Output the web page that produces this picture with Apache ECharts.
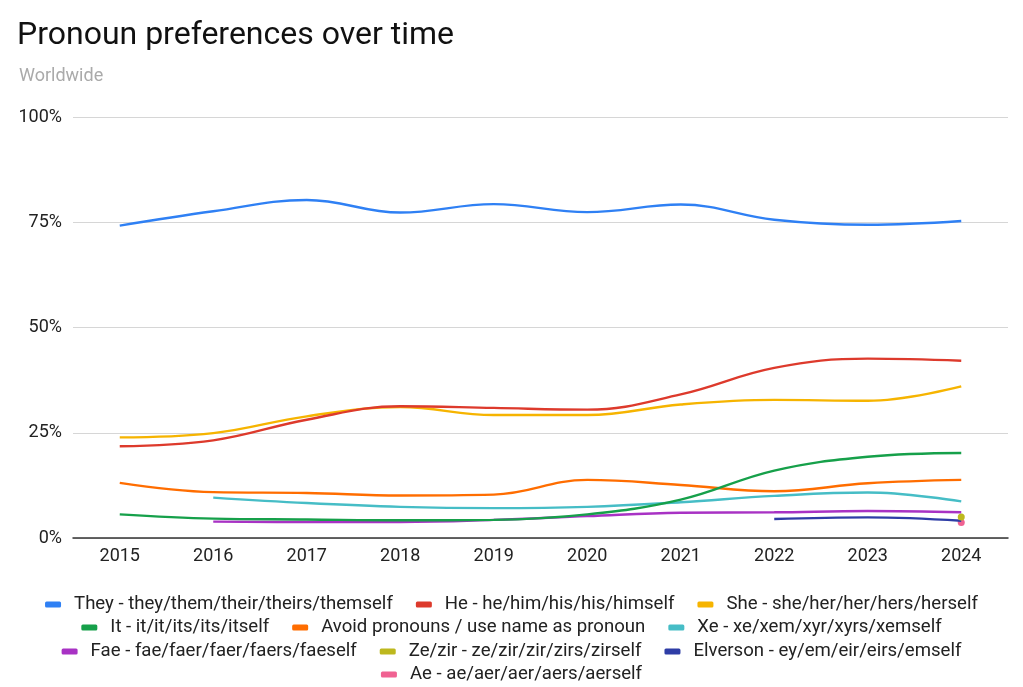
<!DOCTYPE html>
<html>
<head>
<meta charset="utf-8">
<script src="https://cdn.jsdelivr.net/npm/echarts@6/dist/echarts.min.js"></script>
<style>
html,body{margin:0;padding:0;background:#fff;}
#chart{width:1023px;height:687px;}
</style>
</head>
<body>
<div id="chart"></div>
<script>
const years = ['2015','2016','2017','2018','2019','2020','2021','2022','2023','2024'];
const yTicks = [0, 25, 50, 75, 100];

const seriesNames = [
  'They - they/them/their/theirs/themself',
  'He - he/him/his/his/himself',
  'She - she/her/her/hers/herself',
  'It - it/it/its/its/itself',
  'Avoid pronouns / use name as pronoun',
  'Xe - xe/xem/xyr/xyrs/xemself',
  'Fae - fae/faer/faer/faers/faeself',
  'Ze/zir - ze/zir/zir/zirs/zirself',
  'Elverson - ey/em/eir/eirs/emself',
  'Ae - ae/aer/aer/aers/aerself'
];

const theyValues = [74.2, 77.6, 80.3, 77.3, 79.3, 77.4, 79.2, 75.6, 74.4, 75.3];
const heValues = [21.8, 23.2, 28.1, 31.3, 30.9, 30.5, 34.1, 40.4, 42.6, 42.1];
const sheValues = [23.9, 24.9, 28.9, 31.1, 29.2, 29.2, 31.7, 32.8, 32.6, 36.0];
const itValues = [5.6, 4.6, 4.4, 4.2, 4.3, 5.6, 9.1, 16.0, 19.3, 20.2];
const avoidValues = [13.1, 10.9, 10.7, 10.1, 10.3, 13.8, 12.6, 11.1, 13.0, 13.8];
const xeValues = [null, 9.6, 8.3, 7.4, 7.1, 7.4, 8.5, 10.0, 10.8, 8.7];
const faeValues = [null, 3.9, 3.8, 3.8, 4.3, 5.2, 6.0, 6.1, 6.4, 6.1];
const zeValues = [null, null, null, null, null, null, null, null, null, 5.0];
const elversonValues = [null, null, null, null, null, null, null, 4.5, 4.9, 4.1];
const aeValues = [null, null, null, null, null, null, null, null, null, 3.7];

const colors = ['#2F80F4', '#DD3A2C', '#F6B400', '#16A04A', '#FF6D00', '#46BDC6', '#A832C4', '#BDB81E', '#2E3DA6', '#F06292'];
const allValues = [theyValues, heValues, sheValues, itValues, avoidValues, xeValues, faeValues, zeValues, elversonValues, aeValues];

const legendRows = [
  [0, 1, 2],
  [3, 4, 5],
  [6, 7, 8],
  [9]
];
const legendTops = [590, 613, 637, 660];

const chart = echarts.init(document.getElementById('chart'));

const series = allValues.map((vals, i) => {
  const single = vals.filter(v => v !== null).length === 1;
  return {
    name: seriesNames[i],
    type: 'line',
    data: vals,
    smooth: 0.4,
    showSymbol: single,
    symbol: 'circle',
    symbolSize: 7,
    connectNulls: false,
    lineStyle: { width: 2.4, color: colors[i] },
    itemStyle: { color: colors[i] },
    emphasis: { disabled: true },
    z: 10 - i
  };
});

const legends = legendRows.map((row, r) => ({
  data: row.map(i => seriesNames[i]),
  left: 'center',
  top: legendTops[r],
  orient: 'horizontal',
  icon: 'roundRect',
  itemWidth: 16,
  itemHeight: 6,
  itemGap: 23,
  textStyle: { fontFamily: 'Roboto', fontSize: 18.6, color: '#222', padding: [0, 0, 0, 8] }
}));

chart.setOption({
  animation: false,
  color: colors,
  title: [
    { text: 'Pronoun preferences over time', left: 12, top: 15,
      textStyle: { fontFamily: 'Roboto', fontSize: 32, fontWeight: 'normal', color: '#111' } },
    { text: 'Worldwide', left: 14, top: 62,
      textStyle: { fontFamily: 'Roboto', fontSize: 18, fontWeight: 'normal', color: '#AAAAAA' } }
  ],
  legend: legends,
  grid: { left: 73, right: 15, top: 117, bottom: 149, containLabel: false },
  xAxis: {
    type: 'category',
    data: years,
    boundaryGap: true,
    axisLine: { show: true, lineStyle: { color: '#333', width: 1.5 } },
    axisTick: { show: false },
    axisLabel: { fontFamily: 'Roboto', fontSize: 18, color: '#222', margin: 9 }
  },
  yAxis: {
    type: 'value',
    min: yTicks[0],
    max: yTicks[yTicks.length - 1],
    interval: 25,
    axisLine: { show: false },
    axisTick: { show: false },
    axisLabel: { fontFamily: 'Roboto', fontSize: 18, color: '#222', margin: 11, formatter: '{value}%' },
    splitLine: { lineStyle: { color: '#D6D6D6', width: 1.2 } }
  },
  series: series
});
</script>
</body>
</html>
